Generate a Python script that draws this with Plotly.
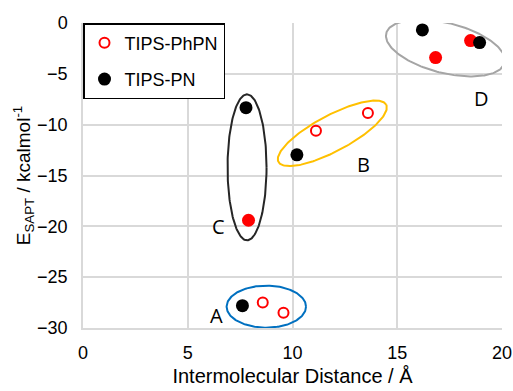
import numpy as np
import plotly.graph_objects as go

# ---- data ----
phpn_open_x = [8.58, 9.57, 11.12, 13.6]
phpn_open_y = [-27.5, -28.5, -10.6, -8.85]
phpn_fill_x = [7.9, 16.83, 18.5]
phpn_fill_y = [-19.4, -3.4, -1.73]
pn_x = [7.61, 7.78, 10.21, 16.2, 18.93]
pn_y = [-27.8, -8.33, -12.97, -0.68, -1.93]

group_labels = ["A", "B", "C", "D"]
label_x = [6.39, 13.39, 6.49, 19.0]
label_y = [-28.78, -13.9, -20.0, -7.42]

# ellipses: centre (data), semi-axes (px), rotation (deg), colour
ell_cx = [8.75, 11.9, 7.83, 17.3]
ell_cy = [-27.9, -10.85, -14.2, -2.46]
ell_a = [39.7, 61, 19.5, 61]
ell_b = [21, 18, 73, 25]
ell_rot = [0, 28, 0, -14]
ell_col = ["#0070C0", "#FFC000", "#262626", "#A5A5A5"]

x_ticks = [0, 5, 10, 15, 20]
y_ticks = [0, -5, -10, -15, -20, -25, -30]

W, H = 513, 391
ML, MR, MT, MB = 83, 11, 23, 63
XR = [0, 20]
YR = [-30, 0]
sx = (W - ML - MR) / (XR[1] - XR[0])
sy = (H - MT - MB) / (YR[1] - YR[0])

fig = go.Figure()

t = np.linspace(0, 2 * np.pi, 200)
for cx, cy, a, b, r, c in zip(ell_cx, ell_cy, ell_a, ell_b, ell_rot, ell_col):
    th = np.deg2rad(r)
    dx = a * np.cos(t) * np.cos(th) - b * np.sin(t) * np.sin(th)
    dy = a * np.cos(t) * np.sin(th) + b * np.sin(t) * np.cos(th)
    fig.add_trace(go.Scatter(x=cx + dx / sx, y=cy + dy / sy, mode="lines",
                             line=dict(color=c, width=2), showlegend=False,
                             hoverinfo="skip"))

fig.add_trace(go.Scatter(x=phpn_open_x, y=phpn_open_y, mode="markers", name="TIPS-PhPN",
                         legendgroup="g1",
                         marker=dict(symbol="circle-open", size=10, color="#FF0000",
                                     line=dict(width=2, color="#FF0000"))))
fig.add_trace(go.Scatter(x=phpn_fill_x, y=phpn_fill_y, mode="markers", name="TIPS-PhPN",
                         showlegend=False, legendgroup="g1",
                         marker=dict(symbol="circle", size=13, color="#FF0000")))
fig.add_trace(go.Scatter(x=pn_x, y=pn_y, mode="markers", name="TIPS-PN",
                         legendgroup="g2",
                         marker=dict(symbol="circle", size=13, color="#000000")))

for lab, lx, ly in zip(group_labels, label_x, label_y):
    fig.add_annotation(x=lx, y=ly, text=lab, showarrow=False,
                       font=dict(family="Open Sans", size=20, color="#000000"))

fig.update_layout(
    width=W, height=H,
    margin=dict(l=ML, r=MR, t=MT, b=MB, autoexpand=False),
    paper_bgcolor="white", plot_bgcolor="white",
    font=dict(family="Liberation Sans, Arial", size=18, color="#000000"),
    showlegend=True,
    legend=dict(x=0, y=1, xanchor="left", yanchor="top",
                bgcolor="white", bordercolor="#000000", borderwidth=1.5,
                font=dict(size=18, color="#000000"), itemwidth=30,
                tracegroupgap=10),
    xaxis=dict(range=XR, tickvals=x_ticks, showgrid=True, gridcolor="#D9D9D9",
               gridwidth=1.5, zeroline=False, showline=True, linecolor="#D9D9D9",
               linewidth=1.5, mirror=False, ticks="outside", ticklen=8,
               tickcolor="rgba(0,0,0,0)", automargin=False,
               tickfont=dict(size=18),
               title=dict(text="Intermolecular Distance / Å", font=dict(size=20),
                          standoff=7)),
    yaxis=dict(range=YR, tickvals=y_ticks, showgrid=True, gridcolor="#D9D9D9",
               gridwidth=1.5, zeroline=False, showline=True, linecolor="#D9D9D9",
               linewidth=1.5, ticks="outside", ticklen=10,
               tickcolor="rgba(0,0,0,0)", automargin=False,
               tickfont=dict(size=18),
               title=dict(text="E<sub>SAPT</sub> / kcalmol<sup>-1</sup>",
                          font=dict(size=19), standoff=0)),
)

fig.write_html("out.html")
